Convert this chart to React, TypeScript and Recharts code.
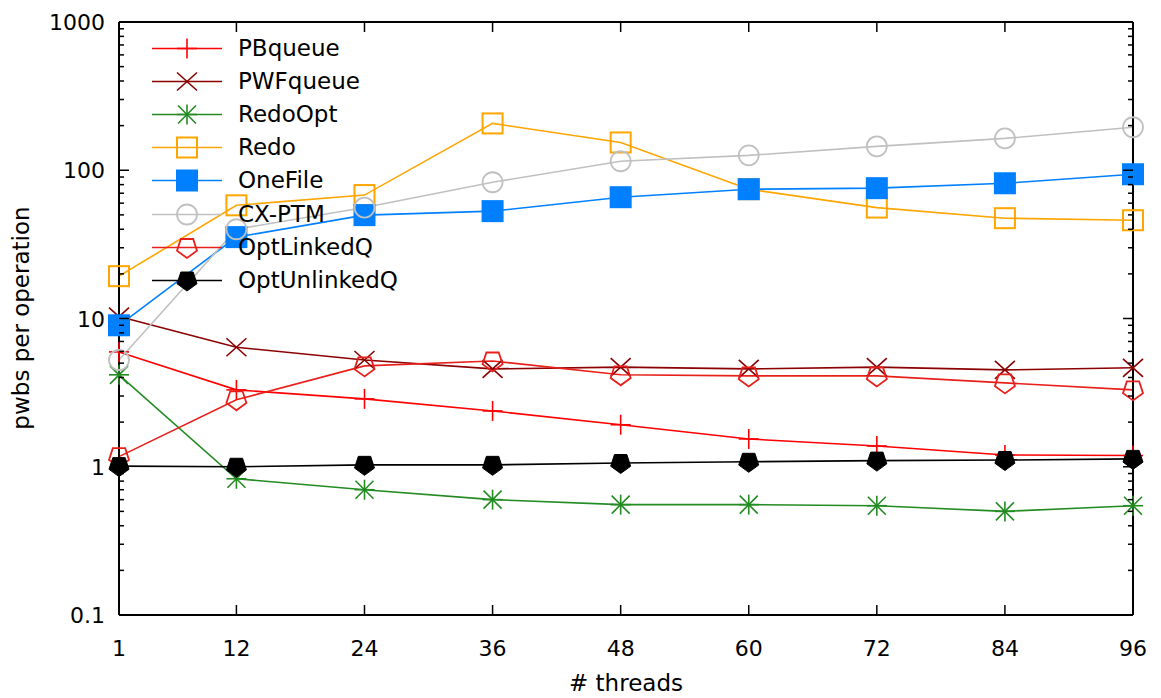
import React from 'react';
import { LineChart, Line, XAxis, YAxis, Legend } from 'recharts';

const THREADS = [1, 12, 24, 36, 48, 60, 72, 84, 96];
const PBQUEUE = [5.95, 3.3, 2.87, 2.38, 1.92, 1.54, 1.38, 1.2, 1.19];
const PWFQUEUE = [10.3, 6.4, 5.25, 4.57, 4.7, 4.57, 4.7, 4.5, 4.65];
const REDOOPT = [4.17, 0.83, 0.7, 0.6, 0.555, 0.555, 0.546, 0.5, 0.546];
const REDO = [19.3, 58, 68, 207, 154, 74.5, 56, 47.5, 46];
const ONEFILE = [9.0, 35.4, 49.8, 53, 65.8, 74.5, 75.7, 81.7, 94];
const CXPTM = [5.25, 40, 56, 83, 115, 126, 145, 164, 195];
const OPTLINKEDQ = [1.17, 2.83, 4.79, 5.17, 4.17, 4.1, 4.1, 3.68, 3.3];
const OPTUNLINKEDQ = [1.01, 1.0, 1.03, 1.03, 1.06, 1.08, 1.1, 1.11, 1.13];

const X_TICKS = [1, 12, 24, 36, 48, 60, 72, 84, 96];
const Y_MAJOR = [0.1, 1, 10, 100, 1000];
const Y_MINOR = [
  0.2, 0.3, 0.4, 0.5, 0.6, 0.7, 0.8, 0.9,
  2, 3, 4, 5, 6, 7, 8, 9,
  20, 30, 40, 50, 60, 70, 80, 90,
  200, 300, 400, 500, 600, 700, 800, 900,
];
const Y_TICKS = [...Y_MAJOR, ...Y_MINOR].sort((a, b) => a - b);

type Kind = 'plus' | 'cross' | 'star' | 'square' | 'fsquare' | 'circle' | 'pent' | 'fpent';

const SERIES: { key: string; name: string; values: number[]; color: string; kind: Kind }[] = [
  { key: 'pb', name: 'PBqueue', values: PBQUEUE, color: '#ff0000', kind: 'plus' },
  { key: 'pwf', name: 'PWFqueue', values: PWFQUEUE, color: '#8b0000', kind: 'cross' },
  { key: 'redoopt', name: 'RedoOpt', values: REDOOPT, color: '#228b22', kind: 'star' },
  { key: 'redo', name: 'Redo', values: REDO, color: '#ffa500', kind: 'square' },
  { key: 'onefile', name: 'OneFile', values: ONEFILE, color: '#0080ff', kind: 'fsquare' },
  { key: 'cx', name: 'CX-PTM', values: CXPTM, color: '#c0c0c0', kind: 'circle' },
  { key: 'olq', name: 'OptLinkedQ', values: OPTLINKEDQ, color: '#e8201a', kind: 'pent' },
  { key: 'oulq', name: 'OptUnlinkedQ', values: OPTUNLINKEDQ, color: '#000000', kind: 'fpent' },
];

const data = THREADS.map((t, i) => {
  const row: Record<string, number> = { x: t };
  SERIES.forEach((s) => (row[s.key] = s.values[i]));
  return row;
});

const FONT = '"DejaVu Sans", Verdana, sans-serif';
// plot frame edges (px)
const P_LEFT = 119;
const P_RIGHT = 1133;
const P_TOP = 22;
const P_BOTTOM = 615;

function pentagon(cx: number, cy: number, r: number) {
  const pts: string[] = [];
  for (let k = 0; k < 5; k++) {
    const a = Math.PI + (k * 2 * Math.PI) / 5; // pointing down
    pts.push(`${cx + r * Math.sin(a)},${cy - r * Math.cos(a)}`);
  }
  return pts.join(' ');
}

function Marker({ kind, cx, cy, color }: { kind: Kind; cx: number; cy: number; color: string }) {
  const sw = 1.6;
  switch (kind) {
    case 'plus':
      return (
        <g stroke={color} strokeWidth={sw}>
          <line x1={cx - 10} x2={cx + 10} y1={cy} y2={cy} />
          <line x1={cx} x2={cx} y1={cy - 10} y2={cy + 10} />
        </g>
      );
    case 'cross':
      return (
        <g stroke={color} strokeWidth={sw}>
          <line x1={cx - 10} x2={cx + 10} y1={cy - 9} y2={cy + 9} />
          <line x1={cx - 10} x2={cx + 10} y1={cy + 9} y2={cy - 9} />
        </g>
      );
    case 'star':
      return (
        <g stroke={color} strokeWidth={sw}>
          <line x1={cx - 10} x2={cx + 10} y1={cy} y2={cy} />
          <line x1={cx} x2={cx} y1={cy - 10} y2={cy + 10} />
          <line x1={cx - 9} x2={cx + 9} y1={cy - 9} y2={cy + 9} />
          <line x1={cx - 9} x2={cx + 9} y1={cy + 9} y2={cy - 9} />
        </g>
      );
    case 'square':
      return <rect x={cx - 10} y={cy - 10} width={20} height={20} fill="none" stroke={color} strokeWidth={2} />;
    case 'fsquare':
      return <rect x={cx - 11} y={cy - 11} width={22} height={22} fill={color} stroke="none" />;
    case 'circle':
      return <circle cx={cx} cy={cy} r={10} fill="none" stroke={color} strokeWidth={1.8} />;
    case 'pent':
      return <polygon points={pentagon(cx, cy, 10.5)} fill="none" stroke={color} strokeWidth={1.8} />;
    case 'fpent':
      return <polygon points={pentagon(cx, cy, 10.5)} fill={color} stroke={color} strokeWidth={1} />;
  }
  return null;
}

const makeDot = (kind: Kind, color: string) => (props: any) => {
  const { cx, cy, index } = props;
  if (cx == null || cy == null) return <g key={`d-${index}`} />;
  return <Marker key={`d-${index}`} kind={kind} cx={cx} cy={cy} color={color} />;
};

const LeftTick = (props: any) => {
  const { y, payload } = props;
  const major = Y_MAJOR.includes(payload.value);
  return (
    <g>
      <line x1={P_LEFT} x2={P_LEFT + (major ? 10 : 5)} y1={y} y2={y} stroke="#000" strokeWidth={1.5} />
      {major && (
        <text x={P_LEFT - 14} y={y + 8} textAnchor="end" fontFamily={FONT} fontSize={22} fill="#000">
          {String(payload.value)}
        </text>
      )}
    </g>
  );
};

const RightTick = (props: any) => {
  const { y, payload } = props;
  const major = Y_MAJOR.includes(payload.value);
  return <line x1={P_RIGHT} x2={P_RIGHT - (major ? 10 : 5)} y1={y} y2={y} stroke="#000" strokeWidth={1.5} />;
};

const BottomTick = (props: any) => {
  const { x, payload } = props;
  return (
    <g>
      <line x1={x} x2={x} y1={P_BOTTOM} y2={P_BOTTOM - 10} stroke="#000" strokeWidth={1.5} />
      <text x={x} y={P_BOTTOM + 41} textAnchor="middle" fontFamily={FONT} fontSize={22} fill="#000">
        {payload.value}
      </text>
    </g>
  );
};

const TopTick = (props: any) => {
  const { x } = props;
  return <line x1={x} x2={x} y1={P_TOP} y2={P_TOP + 10} stroke="#000" strokeWidth={1.5} />;
};

const LegendBox = () => (
  <div style={{ fontFamily: FONT, fontSize: 23, color: '#000' }}>
    {SERIES.map((s) => (
      <div key={s.key} style={{ display: 'flex', alignItems: 'center', height: 33.1 }}>
        <svg width={80} height={33} style={{ display: 'block' }}>
          <line x1={2} x2={72} y1={16.5} y2={16.5} stroke={s.color} strokeWidth={1.6} />
          <Marker kind={s.kind} cx={37} cy={16.5} color={s.color} />
        </svg>
        <span style={{ marginLeft: 8, whiteSpace: 'nowrap', lineHeight: '33px' }}>{s.name}</span>
      </div>
    ))}
  </div>
);

export default function App() {
  return (
    <div style={{ position: 'absolute', left: 0, top: 0, width: 1161, height: 698, background: '#fff' }}>
      <LineChart width={1161} height={698} data={data} margin={{ top: 21, right: 27, bottom: 0, left: 0 }}>
        <XAxis
          xAxisId="bottom"
          dataKey="x"
          type="number"
          domain={[1, 96]}
          ticks={X_TICKS}
          interval={0}
          height={83}
          tickSize={0}
          tickMargin={0}
          tickLine={false}
          axisLine={{ stroke: '#000', strokeWidth: 2 }}
          tick={<BottomTick />}
          label={{
            content: () => (
              <text x={626} y={691} textAnchor="middle" fontFamily={FONT} fontSize={23} fill="#000">
                # threads
              </text>
            ),
          }}
        />
        <XAxis
          xAxisId="top"
          orientation="top"
          dataKey="x"
          type="number"
          domain={[1, 96]}
          ticks={X_TICKS}
          interval={0}
          height={1}
          tickSize={0}
          tickMargin={0}
          tickLine={false}
          axisLine={{ stroke: '#000', strokeWidth: 2 }}
          tick={<TopTick />}
        />
        <YAxis
          yAxisId="left"
          scale="log"
          domain={[0.1, 1000]}
          allowDataOverflow
          ticks={Y_TICKS}
          interval={0}
          width={119}
          tickSize={0}
          tickMargin={0}
          tickLine={false}
          axisLine={{ stroke: '#000', strokeWidth: 2 }}
          tick={<LeftTick />}
          label={{
            content: () => (
              <text
                x={29}
                y={318}
                transform="rotate(-90 29 318)"
                textAnchor="middle"
                fontFamily={FONT}
                fontSize={23}
                fill="#000"
              >
                pwbs per operation
              </text>
            ),
          }}
        />
        <YAxis
          yAxisId="right"
          orientation="right"
          scale="log"
          domain={[0.1, 1000]}
          allowDataOverflow
          ticks={Y_TICKS}
          interval={0}
          width={1}
          tickSize={0}
          tickMargin={0}
          tickLine={false}
          axisLine={{ stroke: '#000', strokeWidth: 2 }}
          tick={<RightTick />}
        />
        <Legend
          layout="horizontal"
          verticalAlign="middle"
          align="center"
          wrapperStyle={{ position: 'absolute', left: 150, top: 32, width: 320, height: 270 }}
          content={() => <LegendBox />}
        />
        {SERIES.map((s) => (
          <Line
            key={s.key}
            xAxisId="bottom"
            yAxisId="left"
            dataKey={s.key}
            name={s.name}
            type="linear"
            stroke={s.color}
            strokeWidth={1.6}
            dot={makeDot(s.kind, s.color)}
            activeDot={false}
            isAnimationActive={false}
          />
        ))}
      </LineChart>
    </div>
  );
}
